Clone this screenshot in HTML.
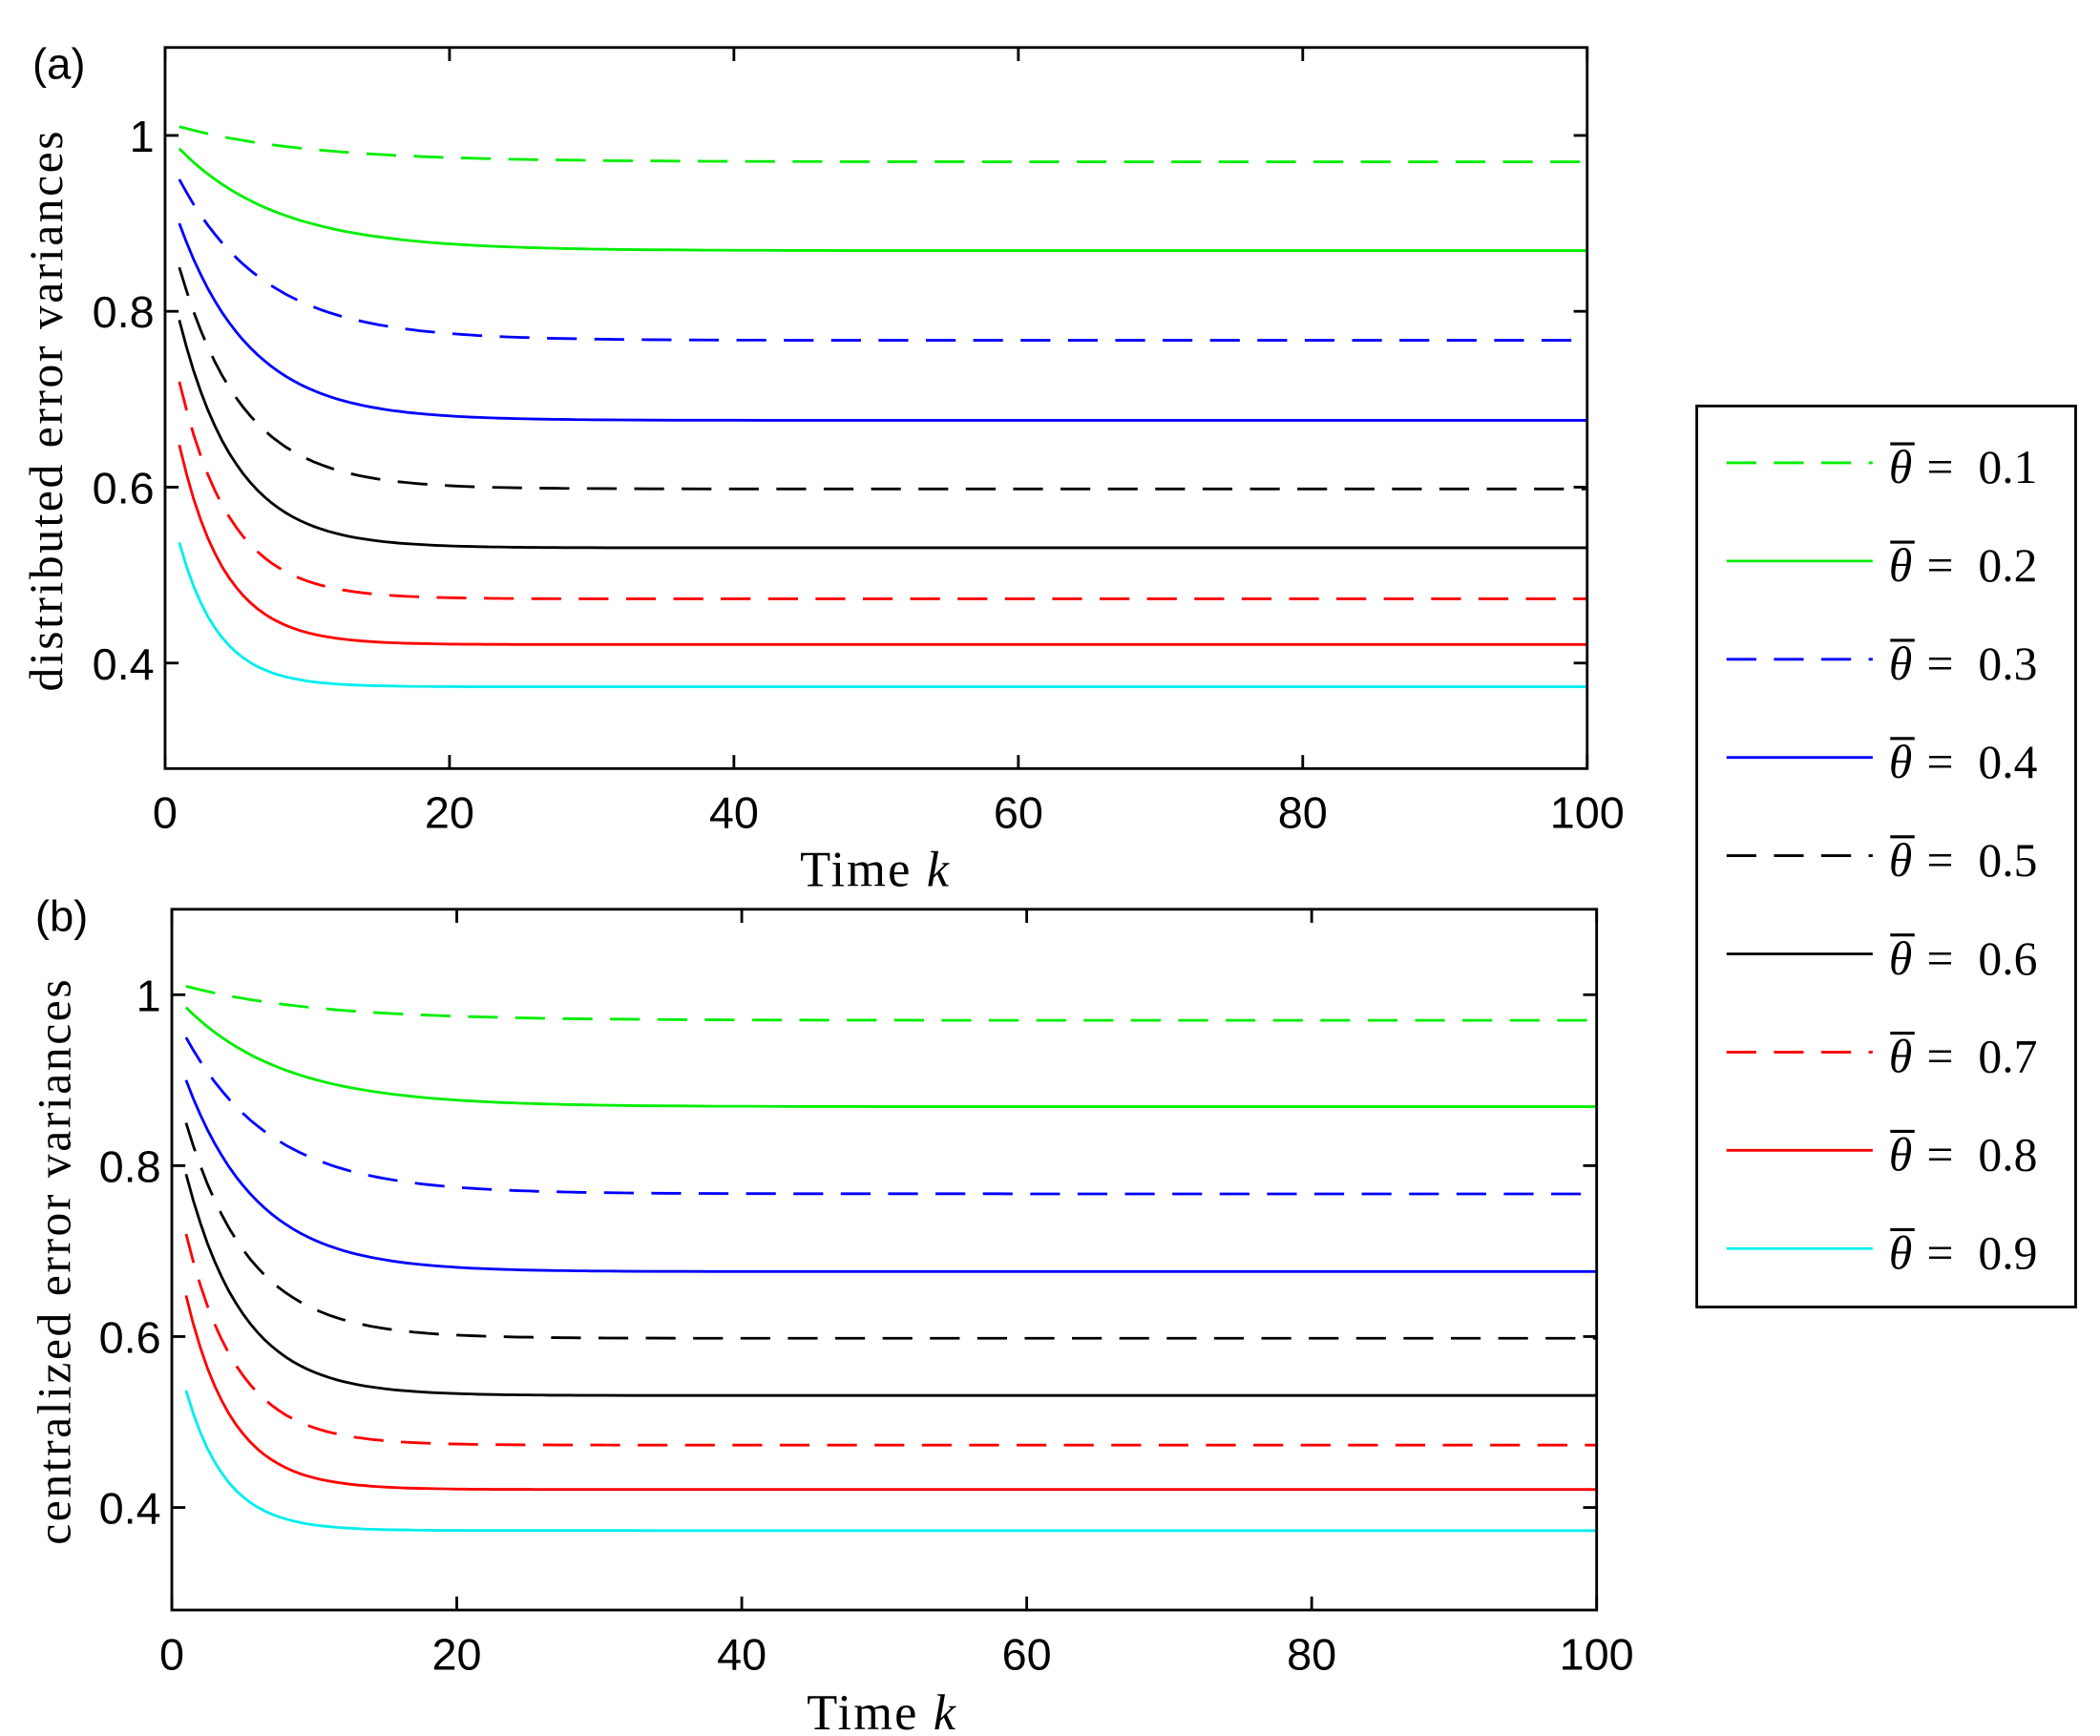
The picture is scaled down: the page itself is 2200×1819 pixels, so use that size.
<!DOCTYPE html>
<html><head><meta charset="utf-8"><style>html,body{margin:0;padding:0;background:#fff}svg{display:block}</style></head>
<body>
<svg id="s" xmlns="http://www.w3.org/2000/svg" width="2200" height="1819" viewBox="0 0 1552 1283">
<rect width="1552" height="1283" fill="#fff"/>
<g id="g"></g>
</svg>
<script>
const NS="http://www.w3.org/2000/svg";const g=document.getElementById('g');
function el(t,a,txt){const e=document.createElementNS(NS,t);for(const k in a)e.setAttribute(k,a[k]);if(txt!==undefined)e.textContent=txt;g.appendChild(e);return e;}
const series=[
 {c:'#00ee00',d:true,v0:1.01,s:0.970,tau:9},
 {c:'#00ee00',d:false,v0:0.985,s:0.869,tau:7},
 {c:'#0000ff',d:true,v0:0.95,s:0.767,tau:6},
 {c:'#0000ff',d:false,v0:0.90,s:0.676,tau:5},
 {c:'#000000',d:true,v0:0.85,s:0.598,tau:4.5},
 {c:'#000000',d:false,v0:0.79,s:0.531,tau:4},
 {c:'#ff0000',d:true,v0:0.72,s:0.473,tau:3.6},
 {c:'#ff0000',d:false,v0:0.648,s:0.421,tau:3.2},
 {c:'#00eeee',d:false,v0:0.537,s:0.373,tau:2.8}];
function panel(x0,x1,y0,y1,lab,ylab,labx,laby,ylx,yly,xlx,xly){
 const X=k=>x0+(x1-x0)*k/100, Y=v=>y1-(y1-y0)*(v-0.28)/0.82;
 series.forEach(S=>{let p='';for(let k=1;k<=100;k+=(k<30?0.5:2)){let v=S.s+(S.v0-S.s)*Math.exp(-(k-1)/S.tau);p+=(p?'L':'M')+X(k).toFixed(1)+' '+Y(v).toFixed(1);}
  el('path',{d:p,fill:'none',stroke:S.c,'stroke-width':2,'stroke-dasharray':S.d?'22 13':'none'});});
 el('rect',{x:x0,y:y0,width:x1-x0,height:y1-y0,fill:'none',stroke:'#000','stroke-width':2});
 for(let k=0;k<=100;k+=20){const x=X(k);el('line',{x1:x,x2:x,y1:y1,y2:y1-10,stroke:'#000','stroke-width':2});el('line',{x1:x,x2:x,y1:y0,y2:y0+10,stroke:'#000','stroke-width':2});
  el('text',{x:x,y:y1+44,'text-anchor':'middle','font-family':'Liberation Sans, sans-serif','font-size':33},k);}
 [0.4,0.6,0.8,1].forEach(v=>{const y=Y(v);el('line',{x1:x0,x2:x0+10,y1:y,y2:y,stroke:'#000','stroke-width':2});el('line',{x1:x1,x2:x1-10,y1:y,y2:y,stroke:'#000','stroke-width':2});
  el('text',{x:x0-8,y:y+12,'text-anchor':'end','font-family':'Liberation Sans, sans-serif','font-size':33},v===1?'1':v.toFixed(1));});
 el('text',{x:labx,y:laby,'font-family':'Liberation Sans, sans-serif','font-size':32},lab);
 el('text',{x:0,y:0,transform:`translate(${ylx},${yly}) rotate(-90)`,'text-anchor':'middle','font-family':'Liberation Serif, serif','font-size':35,'letter-spacing':1.8},ylab);
 const t=el('text',{x:xlx,y:xly,'text-anchor':'middle','font-family':'Liberation Serif, serif','font-size':37,'letter-spacing':1.5},'Time ');
 const ts=document.createElementNS(NS,'tspan');ts.setAttribute('font-style','italic');ts.textContent='k';t.appendChild(ts);
}
panel(122,1173,35,568,'(a)','distributed error variances',24,58,46,303,647,655);
panel(127,1180,672,1190,'(b)','centralized error variances',26,688,52,932,652,1278);
el('rect',{x:1254,y:300,width:280,height:666,fill:'#fff',stroke:'#000','stroke-width':2});
series.forEach((S,i)=>{const y=342+i*72.6;
 el('line',{x1:1276,x2:1384,y1:y,y2:y,stroke:S.c,'stroke-width':2,'stroke-dasharray':S.d?'22 13':'none'});
 el('line',{x1:1397,x2:1415,y1:y-14,y2:y-14,stroke:'#000','stroke-width':2.2});
 el('text',{x:1396,y:y+15,'font-family':'Liberation Serif, serif','font-size':35,'font-style':'italic'},'θ');
 el('text',{x:1424,y:y+15,'font-family':'Liberation Serif, serif','font-size':35},'=');
 el('text',{x:1462,y:y+15,'font-family':'Liberation Serif, serif','font-size':35},'0.'+(i+1));
});
</script>
</body></html>
